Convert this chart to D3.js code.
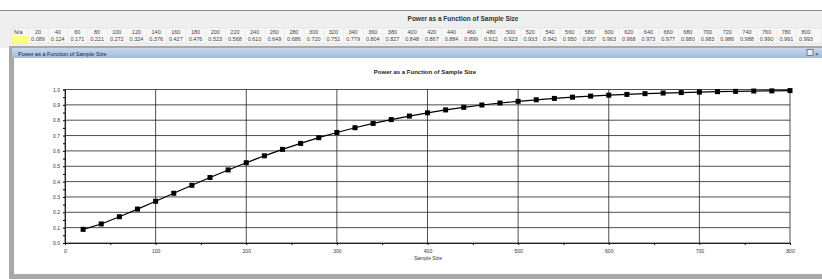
<!DOCTYPE html>
<html><head><meta charset="utf-8">
<script src="https://cdn.jsdelivr.net/npm/d3@7"></script>
<style>html,body{margin:0;padding:0;background:#fff;}svg{display:block;font-family:"Liberation Sans",Arial,sans-serif;}</style>
</head><body>
<script>
const sampleSizes = [20,40,60,80,100,120,140,160,180,200,220,240,260,280,300,320,340,360,380,400,420,440,460,480,500,520,540,560,580,600,620,640,660,680,700,720,740,760,780,800];
const powerValues = [0.089,0.124,0.171,0.221,0.272,0.324,0.376,0.427,0.476,0.523,0.568,0.610,0.649,0.686,0.720,0.751,0.779,0.804,0.827,0.848,0.867,0.884,0.899,0.912,0.923,0.933,0.942,0.950,0.957,0.963,0.968,0.973,0.977,0.980,0.983,0.986,0.988,0.990,0.991,0.993];
const xTicks = [0,100,200,300,400,500,600,700,800];
const yTicks = [0,0.1,0.2,0.3,0.4,0.5,0.6,0.7,0.8,0.9,1.0];
const titleText = "Power as a Function of Sample Size";
const windowTitle = "Power as a Function of Sample Size";
const xLabel = "Sample Size";
const rowLabel = "N/a";

const W = 822, H = 279;
const svg = d3.select("body").append("svg").attr("width", W).attr("height", H);

// top header area
svg.append("rect").attr("x",0).attr("y",0).attr("width",W).attr("height",H).attr("fill","#fff");
svg.append("rect").attr("x",0).attr("y",11).attr("width",W).attr("height",37).attr("fill","#efefef");
svg.append("line").attr("x1",0).attr("x2",W).attr("y1",10.5).attr("y2",10.5).attr("stroke","#8a8a8a");
svg.append("text").attr("x",463).attr("y",21).attr("text-anchor","middle").attr("font-size",6.5).attr("font-weight","bold").attr("fill","#333").text(titleText);

// table
const colX = d3.scalePoint().domain(sampleSizes).range([38, 806]);
const tbl = svg.append("g");
tbl.append("rect").attr("x",12).attr("y",28).attr("width",W-12).attr("height",15).attr("fill","#f7f7f7").attr("stroke","#d8d8d8").attr("stroke-width",0.5);
tbl.append("rect").attr("x",12).attr("y",35.5).attr("width",17).attr("height",7.5).attr("fill","#ffff80");
tbl.append("text").attr("x",14).attr("y",33.5).attr("font-size",5.5).attr("fill","#333").text(rowLabel);
sampleSizes.forEach((n,i)=>{
  const x = colX(n);
  tbl.append("line").attr("x1",x-9.5).attr("x2",x-9.5).attr("y1",28).attr("y2",43).attr("stroke","#e0e0e0").attr("stroke-width",0.5);
  tbl.append("text").attr("x",x).attr("y",33.5).attr("text-anchor","middle").attr("font-size",5.5).attr("fill","#444").text(n);
  tbl.append("text").attr("x",x).attr("y",40.5).attr("text-anchor","middle").attr("font-size",5.5).attr("fill","#444").text(powerValues[i].toFixed(3));
});

// window frame
svg.append("rect").attr("x",9).attr("y",46).attr("width",W-9).attr("height",H-46).attr("fill","#a8a8a8");
svg.append("rect").attr("x",14).attr("y",58).attr("width",W-14).attr("height",216).attr("fill","#fff");
const grad = svg.append("defs").append("linearGradient").attr("id","tb").attr("x1",0).attr("x2",0).attr("y1",0).attr("y2",1);
grad.append("stop").attr("offset","0%").attr("stop-color","#c9d9ec");
grad.append("stop").attr("offset","100%").attr("stop-color","#9fbbdc");
svg.append("rect").attr("x",12).attr("y",48).attr("width",W-12).attr("height",10).attr("fill","url(#tb)");
svg.append("text").attr("x",18).attr("y",55.5).attr("font-size",5.5).attr("fill","#223").text(windowTitle);
svg.append("rect").attr("x",807).attr("y",49.5).attr("width",6).attr("height",6).attr("fill","#eee").attr("stroke","#555").attr("stroke-width",0.7);
svg.append("text").attr("x",815).attr("y",56).attr("font-size",6).attr("fill","#333").text("×");

// chart
svg.append("text").attr("x",425).attr("y",74).attr("text-anchor","middle").attr("font-size",6).attr("font-weight","bold").attr("fill","#222").text(titleText);

const x = d3.scaleLinear().domain([0,800]).range([65,790]);
const y = d3.scaleLinear().domain([0,1]).range([243,89.5]);

const g = svg.append("g");
// horizontal gridlines
g.selectAll(".hg").data(yTicks).join("line").attr("x1",x(0)).attr("x2",x(800))
  .attr("y1",d=>y(d)).attr("y2",d=>y(d)).attr("stroke","#222").attr("stroke-width",0.8);
// vertical gridlines
g.selectAll(".vg").data(xTicks).join("line").attr("y1",y(0)).attr("y2",y(1))
  .attr("x1",d=>x(d)).attr("x2",d=>x(d)).attr("stroke","#222").attr("stroke-width",0.8);

const xAxis = d3.axisBottom(x).tickValues(d3.range(0,801,50)).tickSize(2)
  .tickFormat(d=> d%100===0 ? d : "");
const xa = g.append("g").attr("transform",`translate(0,${y(0)})`).call(xAxis);
xa.selectAll("text").attr("font-size",5).attr("fill","#333").attr("dy","0.9em");
xa.select(".domain").attr("stroke","#222");

const yAxis = d3.axisLeft(y).tickValues(d3.range(0,1.001,0.05)).tickSize(2)
  .tickFormat(d=> Math.round(d*100)%10===0 ? d.toFixed(1) : "");
const ya = g.append("g").attr("transform",`translate(${x(0)},0)`).call(yAxis);
ya.selectAll("text").attr("font-size",5).attr("fill","#333");
ya.select(".domain").attr("stroke","#222");

svg.append("text").attr("x",428).attr("y",260).attr("text-anchor","middle").attr("font-size",5).attr("fill","#333").text(xLabel);

const line = d3.line().x((d,i)=>x(sampleSizes[i])).y(d=>y(d));
g.append("path").datum(powerValues).attr("d",line).attr("fill","none").attr("stroke","#000").attr("stroke-width",1.2);
g.selectAll(".pt").data(powerValues).join("rect")
  .attr("x",(d,i)=>x(sampleSizes[i])-2.5).attr("y",d=>y(d)-2.5)
  .attr("width",5).attr("height",5).attr("fill","#000");
</script>
</body></html>
